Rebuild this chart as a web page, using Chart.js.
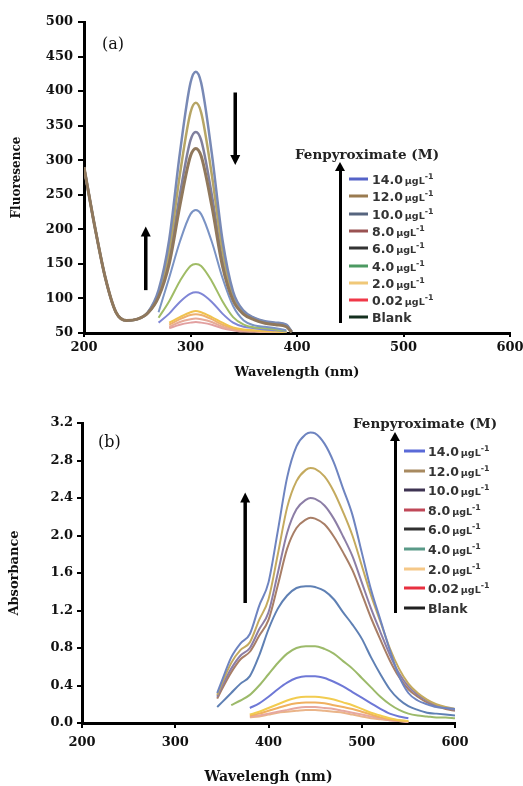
<!DOCTYPE html>
<html>
<head>
<meta charset="utf-8">
<script src="https://cdn.jsdelivr.net/npm/chart.js@4.4.1/dist/chart.umd.min.js"></script>
<style>
  body { margin: 0; background: #fff; }
  #wrap { position: relative; width: 523px; height: 786px; overflow: hidden; }
  canvas { position: absolute; left: 0; }
  .panel { position: absolute; font: 16px "DejaVu Serif", serif; color: #111; }
  .ltitle { position: absolute; font: bold 13.5px "DejaVu Serif", serif; white-space: nowrap; color: #222; transform: translate(-50%, -50%); }
  .litem { position: absolute; white-space: nowrap; font: bold 12px "DejaVu Sans", sans-serif; color: #333; transform: translateY(-50%); }
  .litem small { font-size: 9.5px; font-weight: bold; margin-left: 2px; }
  .lsw { position: absolute; height: 3px; transform: translateY(-50%); }
  .larrow { position: absolute; width: 3px; background: #000; }
  .larrow::before { content: ""; position: absolute; left: -4px; top: -6px; border-left: 5.5px solid transparent; border-right: 5.5px solid transparent; border-bottom: 9px solid #000; }
</style>
</head>
<body>
<div id="wrap">
  <canvas id="chartA" width="523" height="390" style="top:0;width:523px;height:390px"></canvas>
  <canvas id="chartB" width="523" height="396" style="top:390px;width:523px;height:396px"></canvas>
  <div class="panel" style="left:102px;top:34px">(a)</div>
  <div class="panel" style="left:98px;top:432px">(b)</div>
</div>
<script>
// (a) fluorescence spectra
const wlTop = [200, 210, 220, 230, 240, 250, 260, 270, 280, 290, 300, 305, 310, 320, 330, 340, 350, 360, 370, 380, 390, 395];
const fluo14 = [290, 205, 130, 80, 68, 70, 80, 112, 185, 310, 412, 428, 412, 310, 185, 110, 82, 72, 67, 65, 62, 52];
const fluo12 = [290, 205, 130, 80, 68, 70, 80, 108, 170, 279, 369, 383, 369, 279, 170, 104, 80, 71, 66, 64, 61, 52];
const fluo10 = [290, 205, 130, 80, 68, 70, 79, 104, 158, 250, 329, 341, 329, 250, 155, 100, 78, 70, 65, 63, 60, 51];
const fluo8 = [290, 205, 130, 80, 68, 70, 79, 102, 150, 234, 306, 317, 306, 234, 147, 97, 77, 69, 64, 62, 59, 51];
const fluo6 = [null, null, null, null, null, null, null, 80, 130, 182, 222, 228, 222, 182, 130, 89, 68, 61, 59, 57, 54, null];
const fluo4 = [null, null, null, null, null, null, null, 72, 96, 125, 147, 150, 147, 125, 96, 73, 62, 58, 57, 55, 53, null];
const fluo2 = [null, null, null, null, null, null, null, 65, 78, 95, 107, 109, 107, 95, 78, 65, 59, 57, 55, 54, 52, null];
const fluo002 = [null, null, null, null, null, null, null, null, 65, 73, 80, 82, 80, 73, 65, 58, 55, 54, 53, 52, 51, null];
const fluoLowA = [null, null, null, null, null, null, null, null, 62, 70, 76, 77, 76, 70, 62, 57, 54, 53, 52, 52, 51, null];
const fluoLowB = [null, null, null, null, null, null, null, null, 59, 66, 70, 71, 70, 66, 59, 55, 53, 52, 52, 51, 51, null];
const fluoBlank = [null, null, null, null, null, null, null, null, 57, 62, 65, 66, 65, 62, 57, 54, 52, 52, 51, 51, 50, null];

// (b) absorbance spectra
const wlBot = [345, 350, 360, 370, 380, 390, 400, 410, 420, 430, 440, 445, 450, 460, 470, 480, 490, 500, 510, 520, 530, 540, 550, 560, 570, 580, 590, 600];
const abs14 = [0.32, 0.45, 0.70, 0.85, 0.95, 1.25, 1.50, 2.05, 2.62, 2.95, 3.08, 3.10, 3.09, 2.98, 2.78, 2.50, 2.22, 1.82, 1.42, 1.10, 0.78, 0.50, 0.32, 0.24, 0.20, 0.17, 0.16, 0.15];
const abs12 = [0.30, 0.42, 0.64, 0.78, 0.86, 1.10, 1.32, 1.80, 2.30, 2.58, 2.70, 2.72, 2.71, 2.63, 2.47, 2.25, 2.00, 1.68, 1.36, 1.08, 0.80, 0.58, 0.42, 0.32, 0.25, 0.20, 0.17, 0.15];
const abs10 = [0.28, 0.39, 0.58, 0.72, 0.80, 1.00, 1.18, 1.60, 2.03, 2.28, 2.38, 2.40, 2.39, 2.32, 2.18, 1.99, 1.78, 1.50, 1.22, 0.97, 0.73, 0.53, 0.39, 0.30, 0.24, 0.19, 0.16, 0.14];
const abs8 = [0.26, 0.36, 0.54, 0.68, 0.76, 0.93, 1.10, 1.47, 1.86, 2.08, 2.17, 2.19, 2.18, 2.12, 1.99, 1.82, 1.63, 1.38, 1.12, 0.89, 0.67, 0.49, 0.36, 0.28, 0.22, 0.18, 0.15, 0.13];
const abs6 = [0.17, 0.22, 0.32, 0.42, 0.50, 0.72, 1.00, 1.22, 1.36, 1.44, 1.46, 1.46, 1.45, 1.41, 1.32, 1.18, 1.05, 0.90, 0.70, 0.52, 0.36, 0.25, 0.18, 0.14, 0.11, 0.10, 0.09, 0.08];
const abs4 = [null, null, 0.19, 0.24, 0.30, 0.40, 0.52, 0.64, 0.74, 0.80, 0.82, 0.82, 0.82, 0.79, 0.74, 0.66, 0.58, 0.48, 0.38, 0.28, 0.20, 0.14, 0.10, 0.08, 0.07, 0.06, 0.06, 0.05];
const abs2 = [null, null, null, null, 0.16, 0.21, 0.28, 0.36, 0.43, 0.48, 0.50, 0.50, 0.50, 0.48, 0.44, 0.39, 0.33, 0.27, 0.21, 0.15, 0.10, 0.07, 0.05, null, null, null, null, null];
const abs002 = [null, null, null, null, 0.09, 0.12, 0.16, 0.20, 0.24, 0.27, 0.28, 0.28, 0.28, 0.27, 0.25, 0.22, 0.19, 0.15, 0.11, 0.08, 0.05, 0.03, 0.02, null, null, null, null, null];
const absLowA = [null, null, null, null, 0.08, 0.10, 0.13, 0.16, 0.19, 0.21, 0.22, 0.22, 0.22, 0.21, 0.19, 0.17, 0.15, 0.12, 0.09, 0.06, 0.04, 0.03, 0.02, null, null, null, null, null];
const absLowB = [null, null, null, null, 0.07, 0.08, 0.10, 0.12, 0.14, 0.16, 0.17, 0.17, 0.17, 0.16, 0.15, 0.13, 0.11, 0.09, 0.07, 0.05, 0.03, 0.02, 0.01, null, null, null, null, null];
const absBlank = [null, null, null, null, 0.06, 0.07, 0.09, 0.11, 0.12, 0.13, 0.14, 0.14, 0.14, 0.13, 0.12, 0.11, 0.09, 0.07, 0.05, 0.04, 0.03, 0.02, 0.01, null, null, null, null, null];

const concLabels = ['14.0', '12.0', '10.0', '8.0', '6.0', '4.0', '2.0', '0.02', 'Blank'];
const legendColorsA = ['#5563c8', '#9a7b50', '#56657f', '#9a5252', '#333333', '#4c9a62', '#f0c878', '#f03848', '#14301f'];
const legendColorsB = ['#5a6ad8', '#a88a60', '#3e3352', '#c04858', '#303030', '#5a9a88', '#f5c888', '#e83040', '#202020'];

const serif = '"DejaVu Serif", serif';

function pts(xs, ys) {
    return xs.map((x, i) => ({ x: x, y: ys[i] }));
}

function curve(label, xs, ys, color, width, order) {
    return {
        label: label,
        data: pts(xs, ys),
        borderColor: color,
        backgroundColor: color,
        borderWidth: width,
        pointRadius: 0,
        fill: false,
        cubicInterpolationMode: 'monotone',
        order: order || 0
    };
}

// black annotation arrows, given in data units
const arrowPlugin = {
    id: 'arrows',
    afterDatasetsDraw(chart, args, opts) {
        const ctx = chart.ctx;
        const xs = chart.scales.x, ys = chart.scales.y;
        (opts.list || []).forEach(a => {
            const x = xs.getPixelForValue(a.x);
            const y0 = ys.getPixelForValue(a.from);
            const y1 = ys.getPixelForValue(a.to);
            const dir = y1 > y0 ? 1 : -1;
            ctx.save();
            ctx.strokeStyle = '#000';
            ctx.fillStyle = '#000';
            ctx.lineWidth = 3.5;
            ctx.beginPath();
            ctx.moveTo(x, y0);
            ctx.lineTo(x, y1 - dir * 6);
            ctx.stroke();
            ctx.beginPath();
            ctx.moveTo(x, y1);
            ctx.lineTo(x - 5, y1 - dir * 10);
            ctx.lineTo(x + 5, y1 - dir * 10);
            ctx.closePath();
            ctx.fill();
            ctx.restore();
        });
    }
};

function axisOpts(min, max, step, fitSize, isX, title, titleSize, titlePad, tickLen, tickPad, fmt) {
    return {
        type: 'linear',
        min: min,
        max: max,
        afterFit: s => {
            if (isX) {
                s.height = fitSize;
                s.paddingLeft = 0;
                s.paddingRight = 0;
            } else {
                s.width = fitSize;
            }
        },
        ticks: {
            stepSize: step,
            padding: tickPad,
            color: '#111',
            font: { family: serif, weight: 'bold', size: 13 },
            callback: fmt || (v => v)
        },
        grid: { drawOnChartArea: false, color: '#000', lineWidth: 2, tickLength: tickLen },
        border: { color: '#000', width: 3 },
        title: {
            display: true,
            text: title,
            color: '#111',
            font: { family: serif, weight: 'bold', size: titleSize },
            padding: titlePad
        }
    };
}

function buildLegend(cfg) {
    const wrap = document.getElementById('wrap');
    const t = document.createElement('div');
    t.className = 'ltitle';
    t.style.left = cfg.titleX + 'px';
    t.style.top = cfg.titleY + 'px';
    t.textContent = 'Fenpyroximate (M)';
    wrap.appendChild(t);

    const ar = document.createElement('div');
    ar.className = 'larrow';
    ar.style.left = (cfg.arrowX - 1.5) + 'px';
    ar.style.top = cfg.arrowTop + 'px';
    ar.style.height = (cfg.arrowBottom - cfg.arrowTop) + 'px';
    wrap.appendChild(ar);

    concLabels.forEach((lab, i) => {
        const y = cfg.y0 + i * cfg.dy;
        const sw = document.createElement('div');
        sw.className = 'lsw';
        sw.style.left = cfg.swX + 'px';
        sw.style.width = cfg.swW + 'px';
        sw.style.top = y + 'px';
        sw.style.background = cfg.colors[i];
        wrap.appendChild(sw);

        const it = document.createElement('div');
        it.className = 'litem';
        it.style.left = cfg.textX + 'px';
        it.style.top = y + 'px';
        it.style.fontSize = cfg.font + 'px';
        if (lab === 'Blank') {
            it.textContent = lab;
        } else {
            it.innerHTML = lab + '<small>µgL<sup>-1</sup></small>';
        }
        wrap.appendChild(it);
    });
}

function renderFluorescenceChart() {
    new Chart(document.getElementById('chartA'), {
        type: 'line',
        data: {
            datasets: [
                curve('14.0', wlTop, fluo14, '#7889b5', 2.5),
                curve('12.0', wlTop, fluo12, '#b6a565', 2.5),
                curve('10.0', wlTop, fluo10, '#80809e', 2.5),
                curve('8.0', wlTop, fluo8, '#90785c', 3, -1),
                curve('6.0', wlTop, fluo6, '#7a93c4', 2),
                curve('4.0', wlTop, fluo4, '#a0bc66', 2),
                curve('2.0', wlTop, fluo2, '#7f86d6', 2),
                curve('0.02', wlTop, fluo002, '#f0c24e', 2),
                curve('', wlTop, fluoLowA, '#eeb070', 2),
                curve('', wlTop, fluoLowB, '#e6aa98', 2),
                curve('Blank', wlTop, fluoBlank, '#e2a0a0', 2)
            ]
        },
        options: {
            responsive: false,
            maintainAspectRatio: false,
            animation: false,
            events: [],
            layout: { padding: { top: 22, right: 13, left: 0, bottom: 0 } },
            plugins: {
                legend: { display: false },
                tooltip: { enabled: false },
                arrows: { list: [{ x: 342, from: 398, to: 293 }, { x: 258, from: 112, to: 204 }] }
            },
            scales: {
                x: axisOpts(200, 600, 100, 57, true, 'Wavelength (nm)', 13, { top: 0, bottom: 10 }, 4, 3),
                y: axisOpts(50, 500, 50, 84, false, 'Fluoresence', 12, { top: 10, bottom: 0 }, 6, 5)
            }
        },
        plugins: [arrowPlugin]
    });
}

function renderAbsorbanceChart() {
    new Chart(document.getElementById('chartB'), {
        type: 'line',
        data: {
            datasets: [
                curve('14.0', wlBot, abs14, '#6e84c0', 2),
                curve('12.0', wlBot, abs12, '#c4aa5e', 2),
                curve('10.0', wlBot, abs10, '#8c7ea6', 2),
                curve('8.0', wlBot, abs8, '#a87e66', 2),
                curve('6.0', wlBot, abs6, '#5f80b4', 2),
                curve('4.0', wlBot, abs4, '#9cba6a', 2),
                curve('2.0', wlBot, abs2, '#6e78d6', 2),
                curve('0.02', wlBot, abs002, '#f2cc50', 2),
                curve('', wlBot, absLowA, '#f0b060', 2),
                curve('', wlBot, absLowB, '#e6a8a0', 2),
                curve('Blank', wlBot, absBlank, '#eab488', 2)
            ]
        },
        options: {
            responsive: false,
            maintainAspectRatio: false,
            animation: false,
            events: [],
            layout: { padding: { top: 33, right: 68, left: 0, bottom: 0 } },
            plugins: {
                legend: { display: false },
                tooltip: { enabled: false },
                arrows: { list: [{ x: 375, from: 1.28, to: 2.46 }] }
            },
            scales: {
                x: axisOpts(200, 600, 100, 63, true, 'Wavelengh (nm)', 14, { top: 0, bottom: 0 }, 5, 7),
                y: axisOpts(0, 3.2, 0.4, 82, false, 'Absorbance', 13, { top: 7, bottom: 0 }, 5, 4, v => v.toFixed(1))
            }
        },
        plugins: [arrowPlugin]
    });
}

document.addEventListener('DOMContentLoaded', () => {
    renderFluorescenceChart();
    renderAbsorbanceChart();
    buildLegend({ titleX: 367, titleY: 154, arrowX: 340, arrowTop: 168, arrowBottom: 323,
        y0: 179, dy: 17.3, swX: 349, swW: 19, textX: 372, font: 12.5, colors: legendColorsA });
    buildLegend({ titleX: 425, titleY: 423, arrowX: 395, arrowTop: 438, arrowBottom: 613,
        y0: 451, dy: 19.6, swX: 404, swW: 21, textX: 428, font: 12.5, colors: legendColorsB });
});
</script>
</body>
</html>
